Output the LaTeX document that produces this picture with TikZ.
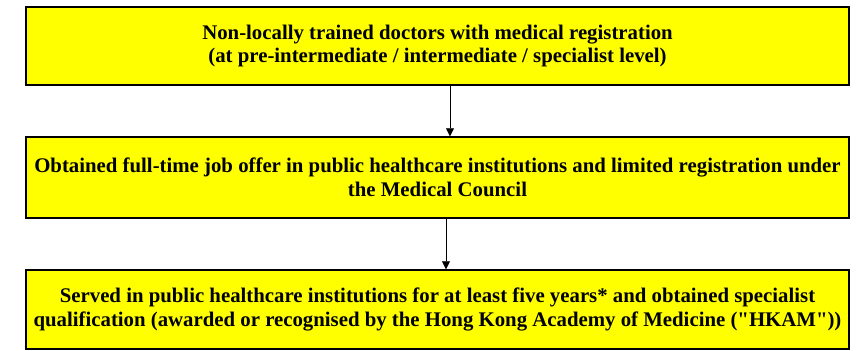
\documentclass[tikz,border=0pt]{standalone}
\usepackage{fontspec}
\setmainfont{Liberation Serif}[BoldFont={Liberation Serif Bold},Ligatures=TeXOff]
\usetikzlibrary{arrows.meta,shadows}

\definecolor{boxyellow}{RGB}{255,255,0}

\tikzset{
  stage/.style={draw, line width=0.75pt, fill=boxyellow, align=center,
    minimum width=411.5pt, inner sep=0pt,
    font=\bfseries\fontsize{10.4}{11.9}\selectfont,
    drop shadow={shadow xshift=0.6pt, shadow yshift=-0.6pt, fill=black, opacity=1}},
  flow/.style={-{Triangle[length=4pt,width=4pt]}, line width=0.35pt}
}

\begin{document}
\begin{tikzpicture}[x=0.5pt,y=-0.5pt]
\useasboundingbox (0,0) rectangle (858,350);

\node[stage, minimum height=39pt] (doctors) at (437.5,46)
  {Non-locally trained doctors with medical registration\\
   (at pre-intermediate / intermediate / specialist level)};
\node[stage, minimum height=40.5pt] (joboffer) at (437.5,177.5)
  {Obtained full-time job offer in public healthcare institutions and limited registration under\\
   the Medical Council};
\node[stage, minimum height=39.5pt] (specialist) at (437.5,309.5)
  {Served in public healthcare institutions for at least five years* and obtained specialist\\
   qualification (awarded or recognised by the Hong Kong Academy of Medicine ("HKAM"))};

\draw[flow] ([xshift=6.25pt]doctors.south) -- ([xshift=6.25pt]joboffer.north);
\draw[flow] ([xshift=4.25pt]joboffer.south) -- ([xshift=4.25pt]specialist.north);
\end{tikzpicture}
\end{document}
